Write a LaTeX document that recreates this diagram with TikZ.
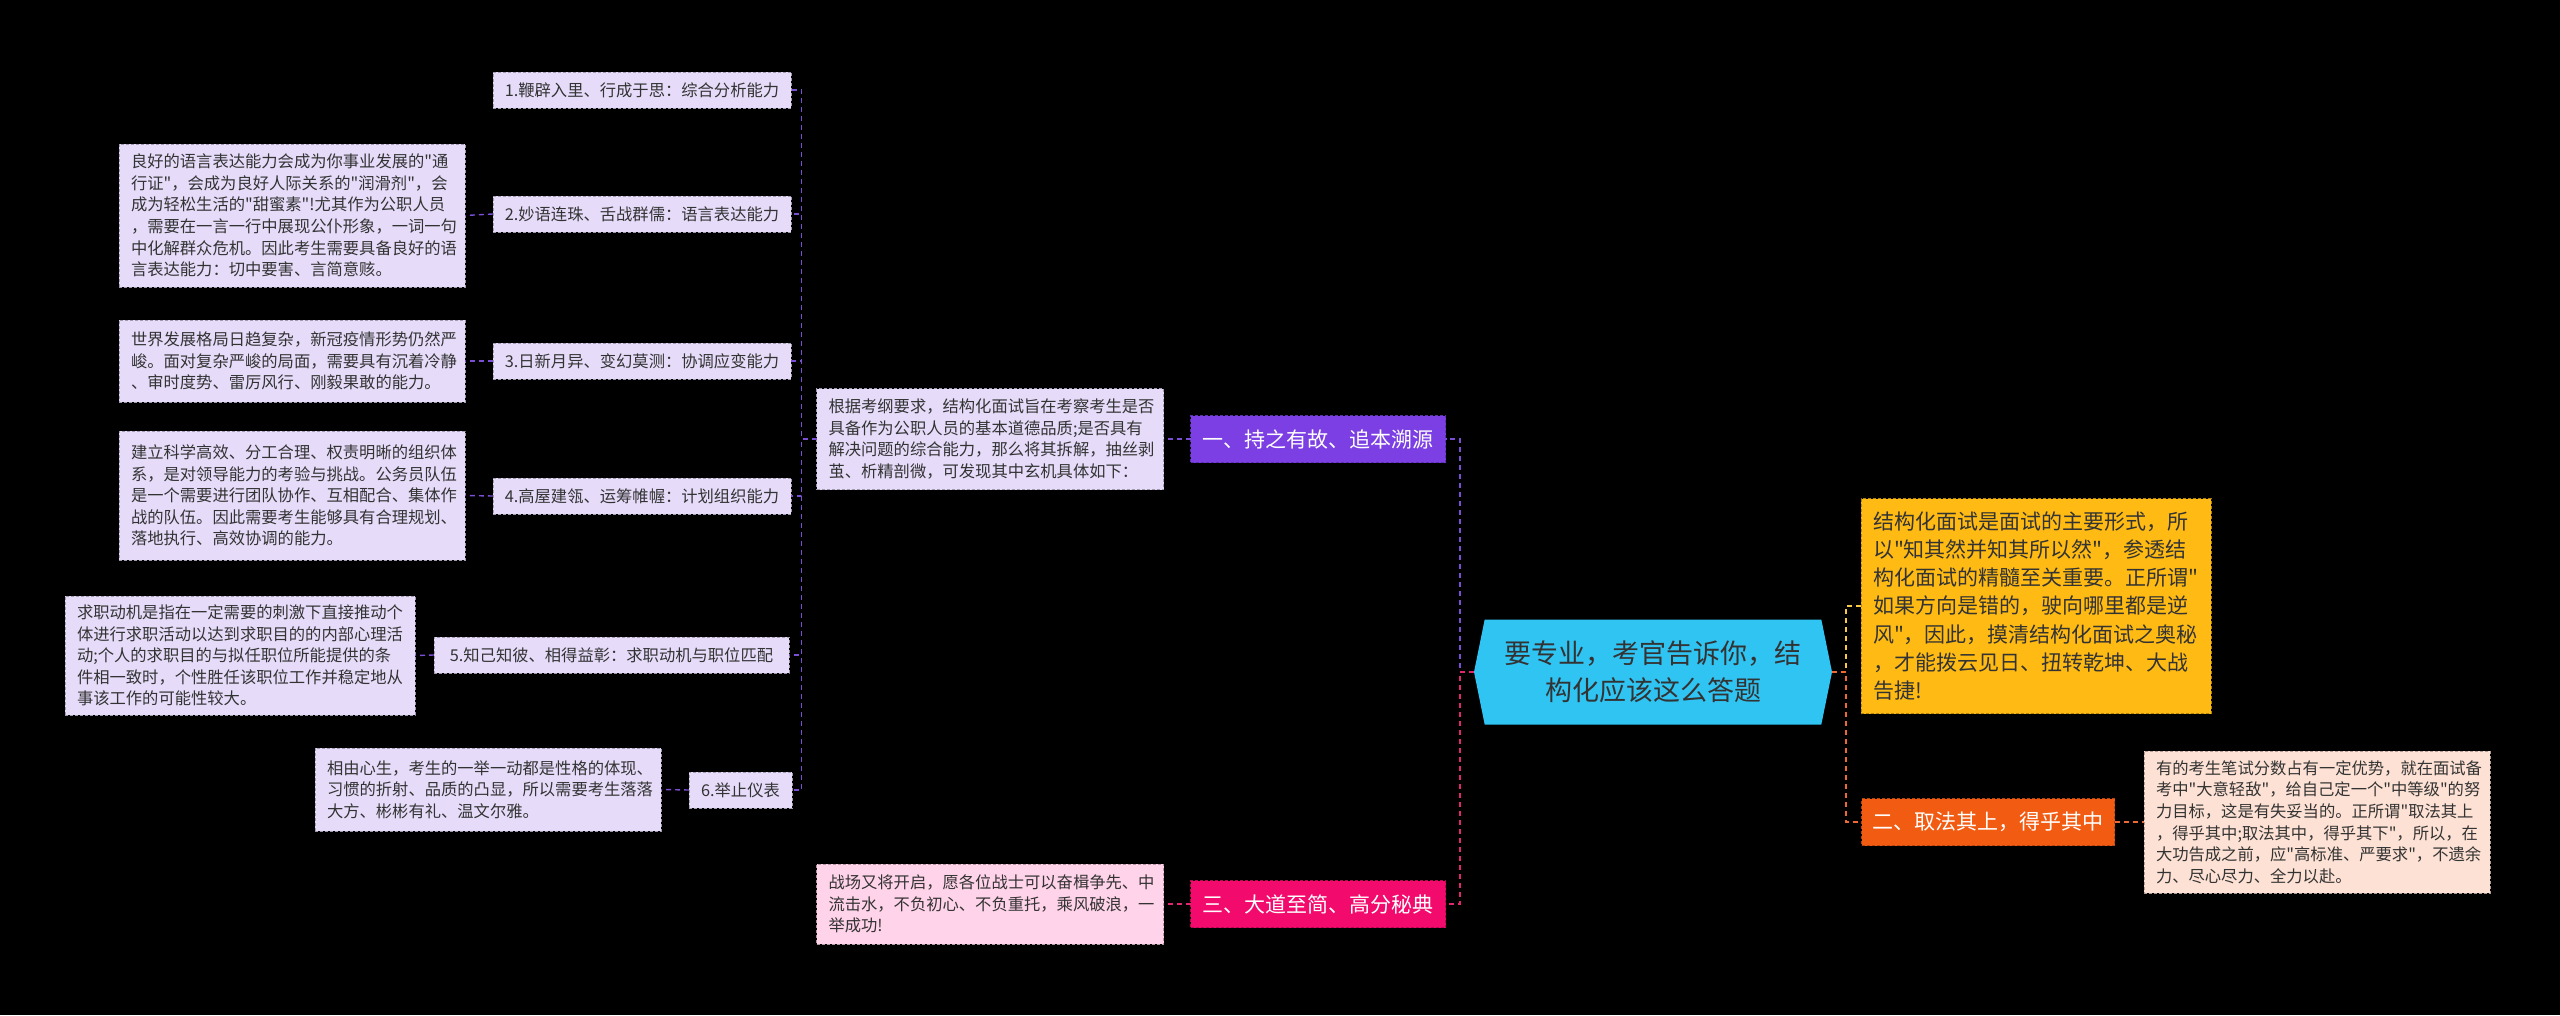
\documentclass[tikz,border=0pt]{standalone}
\usepackage{fontspec}
\setmainfont{Noto Sans CJK SC}[Ligatures=TeXOff]
\usepackage{tikz}
\usetikzlibrary{shapes.symbols}
\definecolor{lav}{HTML}{E6DCFA}
\definecolor{lavline}{HTML}{8C82A8}
\definecolor{purp}{HTML}{7B3FE4}
\definecolor{purpline}{HTML}{7A4FD6}
\definecolor{rose}{HTML}{F20A6C}
\definecolor{roseline}{HTML}{E0266F}
\definecolor{roselt}{HTML}{FFD3E9}
\definecolor{orng}{HTML}{F25C12}
\definecolor{orngline}{HTML}{EE6A34}
\definecolor{peach}{HTML}{FDE1D4}
\definecolor{yell}{HTML}{FFBB14}
\definecolor{yellline}{HTML}{F8C846}
\definecolor{sky}{HTML}{30C4F3}
\definecolor{txt}{HTML}{333333}

\tikzset{
  every node/.style={inner sep=0pt, outer sep=0pt},
  note/.style={fill=#1, draw=#1!70!black, dash pattern=on 3pt off 2pt, text=txt,
    inner xsep=12pt, align=left, font=\fontsize{16.3}{21.6}\selectfont},
  item/.style={note=lav, minimum height=36pt},
  head/.style={fill=#1, draw=#1!75!black, dash pattern=on 3pt off 2pt, text=white,
    minimum width=255pt, minimum height=47pt, font=\fontsize{21}{26}\selectfont},
  link/.style={draw=#1, line width=1.4pt, dash pattern=on 5pt off 4pt}
}

\begin{document}
\begin{tikzpicture}[x=1pt,y=-1pt]
  \fill[black] (0,0) rectangle (2560,1015);
  \useasboundingbox (0,0) rectangle (2560,1015);

  \node[signal, signal to=west and east, signal pointer angle=157, fill=sky, text=txt,
    minimum width=358pt, minimum height=105pt, align=center,
    font=\fontsize{27}{37}\selectfont] (root) at (1653,672)
    {要专业，考官告诉你，结\\构化应该这么答题};

  \node[head=purp] (h1) at (1318,439) {一、持之有故、追本溯源};
  \node[head=orng, minimum width=253pt] (h2) at (1988,822) {二、取法其上，得乎其中};
  \node[head=rose] (h3) at (1318,904) {三、大道至简、高分秘典};

  \node[note=yell, text width=326pt, minimum height=215pt,
    font=\fontsize{21}{28.2}\selectfont] (sum) at (2036,606)
    {结构化面试是面试的主要形式，所\\以"知其然并知其所以然"，参透结\\构化面试的精髓至关重要。正所谓"\\如果方向是错的，驶向哪里都是逆\\风"，因此，摸清结构化面试之奥秘\\，才能拨云见日、扭转乾坤、大战\\告捷!};

  \node[note=peach, text width=322pt, minimum height=142pt] (d2) at (2317,822)
    {有的考生笔试分数占有一定优势，就在面试备\\考中"大意轻敌"，给自己定一个"中等级"的努\\力目标，这是有失妥当的。正所谓"取法其上\\，得乎其中;取法其中，得乎其下"，所以，在\\大功告成之前，应"高标准、严要求"，不遗余\\力、尽心尽力、全力以赴。};

  \node[note=lav, text width=323pt, minimum height=101pt] (d1) at (990,439)
    {根据考纲要求，结构化面试旨在考察考生是否\\具备作为公职人员的基本道德品质;是否具有\\解决问题的综合能力，那么将其拆解，抽丝剥\\茧、析精剖微，可发现其中玄机具体如下：};

  \node[note=roselt, text width=323pt, minimum height=80pt] (d3) at (990,904)
    {战场又将开启，愿各位战士可以奋楫争先、中\\流击水，不负初心、不负重托，乘风破浪，一\\举成功!};

  \node[item, minimum width=294pt] (i1) at (642,90) {1.鞭辟入里、行成于思：综合分析能力};
  \node[item, minimum width=294pt] (i2) at (642,214) {2.妙语连珠、舌战群儒：语言表达能力};
  \node[item, minimum width=294pt] (i3) at (642,361) {3.日新月异、变幻莫测：协调应变能力};
  \node[item, minimum width=294pt] (i4) at (642,496) {4.高屋建瓴、运筹帷幄：计划组织能力};
  \node[item, minimum width=355pt] (i5) at (611.5,655) {5.知己知彼、相得益彰：求职动机与职位匹配};
  \node[item, minimum width=97pt] (i6) at (740.5,790) {6.举止仪表};

  \node[note=lav, text width=322pt, minimum height=143pt] (e2) at (292,215.5)
    {良好的语言表达能力会成为你事业发展的"通\\行证"，会成为良好人际关系的"润滑剂"，会\\成为轻松生活的"甜蜜素"!尤其作为公职人员\\，需要在一言一行中展现公仆形象，一词一句\\中化解群众危机。因此考生需要具备良好的语\\言表达能力：切中要害、言简意赅。};
  \node[note=lav, text width=322pt, minimum height=82pt] (e3) at (292,361)
    {世界发展格局日趋复杂，新冠疫情形势仍然严\\峻。面对复杂严峻的局面，需要具有沉着冷静\\、审时度势、雷厉风行、刚毅果敢的能力。};
  \node[note=lav, text width=322pt, minimum height=129pt] (e4) at (292,495.5)
    {建立科学高效、分工合理、权责明晰的组织体\\系，是对领导能力的考验与挑战。公务员队伍\\是一个需要进行团队协作、互相配合、集体作\\战的队伍。因此需要考生能够具有合理规划、\\落地执行、高效协调的能力。};
  \node[note=lav, text width=326pt, minimum height=119pt] (e5) at (240,655.5)
    {求职动机是指在一定需要的刺激下直接推动个\\体进行求职活动以达到求职目的的内部心理活\\动;个人的求职目的与拟任职位所能提供的条\\件相一致时，个性胜任该职位工作并稳定地从\\事该工作的可能性较大。};
  \node[note=lav, text width=322pt, minimum height=83pt] (e6) at (488,789.5)
    {相由心生，考生的一举一动都是性格的体现、\\习惯的折射、品质的凸显，所以需要考生落落\\大方、彬彬有礼、温文尔雅。};

  \draw[link=purpline] (root.west) -- ++(-14,0) |- (h1.east);
  \draw[link=roseline] (root.west) -- ++(-14,0) |- (h3.east);
  \draw[link=yellline] (root.east) -- ++(14,0) |- (sum.west);
  \draw[link=orngline] (root.east) -- ++(14,0) |- (h2.west);
  \draw[link=orngline] (h2.east) -- (d2.west);
  \draw[link=purpline] (h1.west) -- (d1.east);
  \draw[link=roseline] (h3.west) -- (d3.east);
  \foreach \k in {1,...,6}
    \draw[link=purpline] (d1.west) -- ++(-15,0) |- (i\k.east);
  \foreach \k in {2,...,6}
    \draw[link=purpline] (i\k.west) -- (e\k.east);
\end{tikzpicture}
\end{document}
